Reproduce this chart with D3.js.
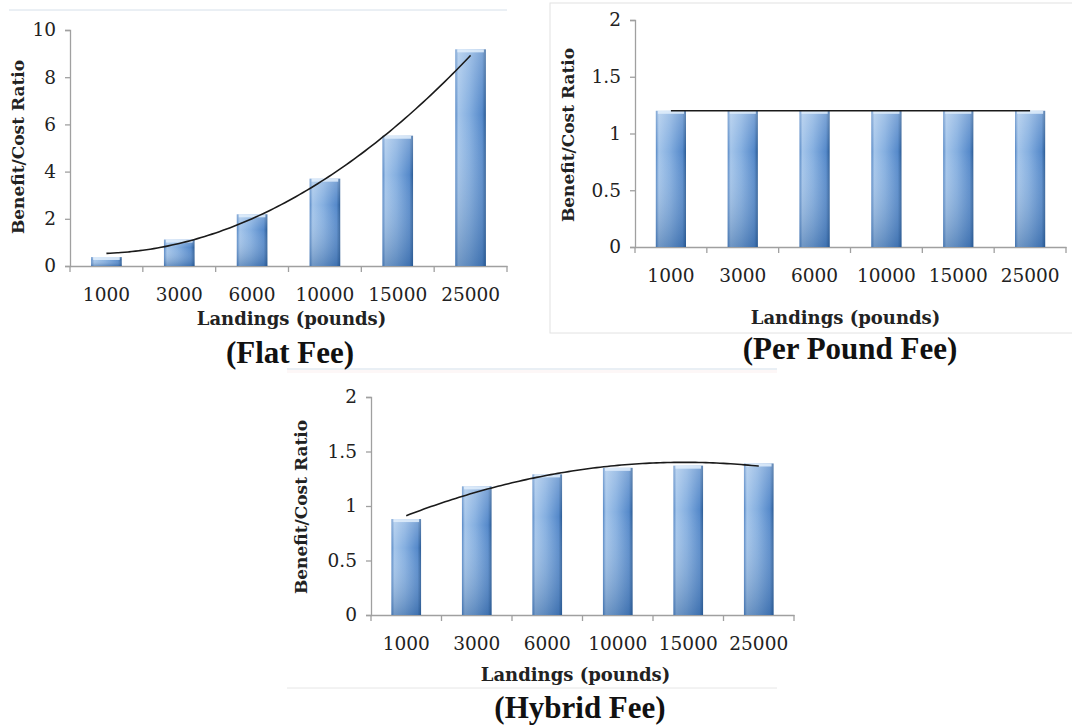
<!DOCTYPE html>
<html>
<head>
<meta charset="utf-8">
<script src="https://cdn.jsdelivr.net/npm/d3@7"></script>
<style>
  body { margin: 0; background: #fff; }
  svg { display: block; }
</style>
</head>
<body>
<svg id="fig" width="1072" height="727"></svg>
<script>
// landings categories shared by the three panels
const landings = ["1000", "3000", "6000", "10000", "15000", "25000"]

// benefit/cost ratios
const flatFee = [0.38, 1.12, 2.19, 3.70, 5.52, 9.18]
const perPoundFee = [1.2, 1.2, 1.2, 1.2, 1.2, 1.2]
const hybridFee = [0.88, 1.18, 1.29, 1.35, 1.37, 1.39]

const flatTicks = [0, 2, 4, 6, 8, 10]
const halfTicks = [0, 0.5, 1, 1.5, 2]

const titles = ["(Flat Fee)", "(Per Pound Fee)", "(Hybrid Fee)"]

const svg = d3.select("#fig")
const defs = svg.append("defs")

// excel-ish bar shading
const hg = defs.append("linearGradient").attr("id", "barH").attr("x1", 0).attr("x2", 1).attr("y1", 0).attr("y2", 0)
hg.append("stop").attr("offset", "0%").attr("stop-color", "#5486c4")
hg.append("stop").attr("offset", "10%").attr("stop-color", "#a4c5ea")
hg.append("stop").attr("offset", "45%").attr("stop-color", "#85afe0")
hg.append("stop").attr("offset", "88%").attr("stop-color", "#5589ca")
hg.append("stop").attr("offset", "100%").attr("stop-color", "#2b5b94")

const vg = defs.append("linearGradient").attr("id", "barV").attr("x1", 0).attr("x2", 0).attr("y1", 0).attr("y2", 1)
vg.append("stop").attr("offset", "0%").attr("stop-color", "#ffffff").attr("stop-opacity", 0.25)
vg.append("stop").attr("offset", "30%").attr("stop-color", "#ffffff").attr("stop-opacity", 0)
vg.append("stop").attr("offset", "100%").attr("stop-color", "#1f4f8a").attr("stop-opacity", 0.4)

// least squares quadratic, like the excel polynomial trendline
function polyFit(ys){
	const xs = ys.map((d,i)=>i+1)
	const mx = d3.mean(xs)
	const p1 = xs.map(x=>x-mx)
	const c2 = d3.mean(p1.map(v=>v*v))
	const p2 = p1.map(v=>v*v-c2)
	const my = d3.mean(ys)
	const b1 = d3.sum(p1.map((v,i)=>v*ys[i]))/d3.sum(p1.map(v=>v*v))
	const b2 = d3.sum(p2.map((v,i)=>v*ys[i]))/d3.sum(p2.map(v=>v*v))
	return x=>{ const u=x-mx; return my+b1*u+b2*(u*u-c2) }
}

function drawChart(cfg){
	const g = svg.append("g")

	const x = d3.scaleBand().domain(landings).range([cfg.x0, cfg.x1]).paddingInner(0.58).paddingOuter(0.29)
	const y = d3.scaleLinear().domain(cfg.domain).range([cfg.y0, cfg.yTop])

	// axes
	const yAx = g.append("g").attr("transform", "translate("+cfg.x0+",0)")
		.call(d3.axisLeft(y).tickValues(cfg.ticks).tickSize(5).tickPadding(9).tickFormat(d3.format("")))
	const xAx = g.append("g").attr("transform", "translate(0,"+cfg.y0+")")
		.call(d3.axisBottom(x).tickSize(0).tickPadding(22))
	;[yAx, xAx].forEach(a=>{
		a.select(".domain").attr("stroke", "#a0a0a0").attr("stroke-width", 1.3)
		a.selectAll("line").attr("stroke", "#a0a0a0").attr("stroke-width", 1.3)
		a.selectAll("text").attr("font-family", "DejaVu Serif").attr("font-size", 18.5).attr("fill", "#222")
	})
	// category separator ticks
	const step = x.step()
	g.selectAll(null).data(d3.range(landings.length+1)).enter().append("line")
		.attr("x1", i=>cfg.x0+i*step).attr("x2", i=>cfg.x0+i*step)
		.attr("y1", cfg.y0).attr("y2", cfg.y0+6)
		.attr("stroke", "#a0a0a0").attr("stroke-width", 1.3)

	// bars
	const bars = g.selectAll(null).data(cfg.values).enter()
	bars.append("rect")
		.attr("x", (d,i)=>x(landings[i])).attr("width", x.bandwidth())
		.attr("y", d=>y(d)).attr("height", d=>y(0)-y(d))
		.attr("fill", "url(#barH)")
	bars.append("rect")
		.attr("x", (d,i)=>x(landings[i])).attr("width", x.bandwidth())
		.attr("y", d=>y(d)).attr("height", d=>y(0)-y(d))
		.attr("fill", "url(#barV)")
	bars.append("rect")
		.attr("x", (d,i)=>x(landings[i])+2).attr("width", x.bandwidth()-4)
		.attr("y", d=>y(d)).attr("height", 3)
		.attr("fill", "#e2eefb").attr("opacity", 0.85)

	// trendline
	const fit = polyFit(cfg.values)
	const pts = d3.range(1, landings.length+0.001, 0.05).map(t=>[
		x(landings[0])+x.bandwidth()/2+(t-1)*step, y(fit(t))
	])
	g.append("path").attr("d", d3.line().curve(d3.curveBasis)(pts))
		.attr("fill", "none").attr("stroke", "#1a1a1a").attr("stroke-width", 1.6)

	// labels
	g.append("text").text("Landings (pounds)")
		.attr("x", (cfg.x0+cfg.x1)/2+cfg.xlDx).attr("y", cfg.xlY)
		.attr("text-anchor", "middle").attr("font-family", "DejaVu Serif").attr("font-weight", "bold")
		.attr("font-size", 18).attr("fill", "#222")
	g.append("text").text("Benefit/Cost Ratio")
		.attr("transform", "translate("+cfg.ylX+","+cfg.ylY+") rotate(-90)")
		.attr("text-anchor", "middle").attr("font-family", "DejaVu Serif").attr("font-weight", "bold")
		.attr("font-size", 17).attr("fill", "#222")
	g.append("text").text(cfg.title)
		.attr("x", cfg.tX).attr("y", cfg.tY)
		.attr("text-anchor", "middle").attr("font-family", "Liberation Serif").attr("font-weight", "bold")
		.attr("font-size", 31).attr("fill", "#111")
}

// frame lines around the panels
svg.append("rect").attr("x", 550).attr("y", 3).attr("width", 530).attr("height", 330)
	.attr("fill", "none").attr("stroke", "#e2e2e2")
svg.append("line").attr("x1", 9).attr("x2", 507).attr("y1", 10).attr("y2", 10).attr("stroke", "#d6e0ea")
svg.append("line").attr("x1", 287).attr("x2", 777).attr("y1", 369).attr("y2", 369).attr("stroke", "#d3dfea")
svg.append("rect").attr("x", 287).attr("y", 370).attr("width", 490).attr("height", 3).attr("fill", "#fdf7f7")
svg.append("line").attr("x1", 287).attr("x2", 777).attr("y1", 688).attr("y2", 688).attr("stroke", "#e6e6e6")

drawChart({values: flatFee, domain: [0, 10], ticks: flatTicks, title: titles[0],
	x0: 70, x1: 507, y0: 266, yTop: 30, xlY: 325, xlDx: 3, ylX: 24, ylY: 147, tX: 290, tY: 363})
drawChart({values: perPoundFee, domain: [0, 2], ticks: halfTicks, title: titles[1],
	x0: 635, x1: 1066, y0: 247, yTop: 20, xlY: 324, xlDx: -5, ylX: 574, ylY: 135, tX: 850, tY: 359})
drawChart({values: hybridFee, domain: [0, 2], ticks: halfTicks, title: titles[2],
	x0: 371, x1: 794, y0: 615, yTop: 397, xlY: 681, xlDx: -7, ylX: 307, ylY: 507, tX: 580, tY: 718})
</script>
</body>
</html>
